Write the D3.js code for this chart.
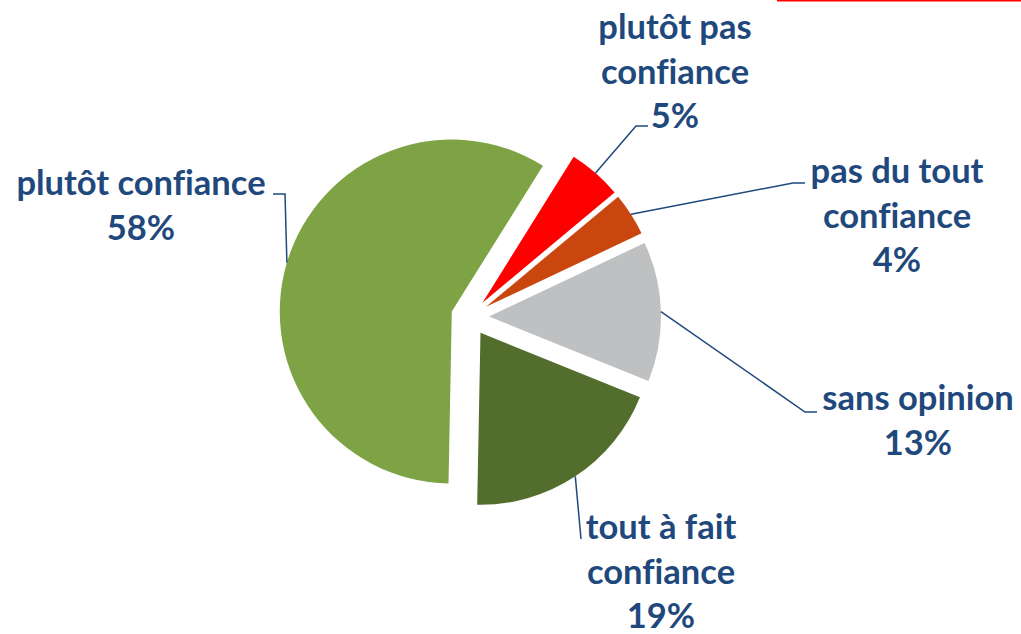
<!DOCTYPE html>
<html>
<head>
<meta charset="utf-8">
<script src="https://cdn.jsdelivr.net/npm/d3@7"></script>
<style>
  html, body { margin: 0; padding: 0; background: #ffffff; }
  svg { display: block; }
  text.label { font-variant-ligatures: none; }
</style>
</head>
<body>
<svg id="chart" width="1021" height="634"></svg>
<script>
// Survey answers, in clockwise order starting at the upper right
const categories = ["plutôt pas\nconfiance", "pas du tout\nconfiance", "sans opinion", "tout à fait\nconfiance", "plutôt confiance"];
const values = [5, 4, 13, 19, 58];
const colors = ["#FF0000", "#C9470F", "#BFC0C2", "#536E2C", "#7EA344"];

// Label placement: centre x, first baseline, optional elbow, and end of the leader line
const labelLayout = [
  { x: 675, y: 39,  elbow: [636, 126], end: [648, 126] },
  { x: 897, y: 183, elbow: [793, 183], end: [805, 183] },
  { x: 918, y: 410, elbow: [805, 412], end: [817, 412] },
  { x: 661, y: 539, elbow: null,       end: [581, 539] },
  { x: 141, y: 195, elbow: [285, 194], end: [273, 194] }
];

const cx = 470, cy = 317, radius = 172, explode = 19;
const startDeg = 32;
const lineHeight = 44.5;
const textColor = "#1F497D";

const svg = d3.select("#chart");

// Thin red rule along the top right edge
svg.append("rect")
  .attr("x", 777).attr("y", 0).attr("width", 244).attr("height", 1.5)
  .attr("fill", "#FF0000");

const start = startDeg * Math.PI / 180;
const pie = d3.pie().sort(null).value(d => d.value)
  .startAngle(start).endAngle(start + 2 * Math.PI);
const arc = d3.arc().innerRadius(0).outerRadius(radius);

const data = categories.map((c, i) => ({ name: c, value: values[i], color: colors[i], layout: labelLayout[i] }));
const arcs = pie(data);

function polar(a, dist) {
  const m = (a.startAngle + a.endAngle) / 2;
  return [Math.sin(m) * dist, -Math.cos(m) * dist];
}

const g = svg.append("g").attr("transform", `translate(${cx},${cy})`);

// Exploded slices
g.selectAll("path.slice")
  .data(arcs)
  .join("path")
  .attr("class", "slice")
  .attr("transform", a => `translate(${polar(a, explode)})`)
  .attr("d", arc)
  .attr("fill", a => a.data.color);

// Leader lines from the middle of each slice's rim to its label
const line = d3.line();
svg.selectAll("path.leader")
  .data(arcs)
  .join("path")
  .attr("class", "leader")
  .attr("fill", "none")
  .attr("stroke", textColor)
  .attr("stroke-width", 1.5)
  .attr("d", a => {
    const o = polar(a, explode), r = polar(a, radius);
    const pts = [[cx + o[0] + r[0], cy + o[1] + r[1]]];
    if (a.data.layout.elbow) pts.push(a.data.layout.elbow);
    pts.push(a.data.layout.end);
    return line(pts);
  });

// Labels: category lines followed by the percentage
const labels = svg.selectAll("text.label")
  .data(arcs)
  .join("text")
  .attr("class", "label")
  .attr("text-anchor", "middle")
  .attr("fill", textColor)
  .attr("font-family", "Lato, 'Open Sans', sans-serif")
  .attr("font-weight", 700)
  .attr("font-size", 34.5);

labels.each(function(a) {
  const lines = a.data.name.split("\n").concat([a.data.value + "%"]);
  d3.select(this).selectAll("tspan")
    .data(lines)
    .join("tspan")
    .attr("x", a.data.layout.x)
    .attr("y", (t, i) => a.data.layout.y + i * lineHeight)
    .text(t => t);
});
</script>
</body>
</html>
